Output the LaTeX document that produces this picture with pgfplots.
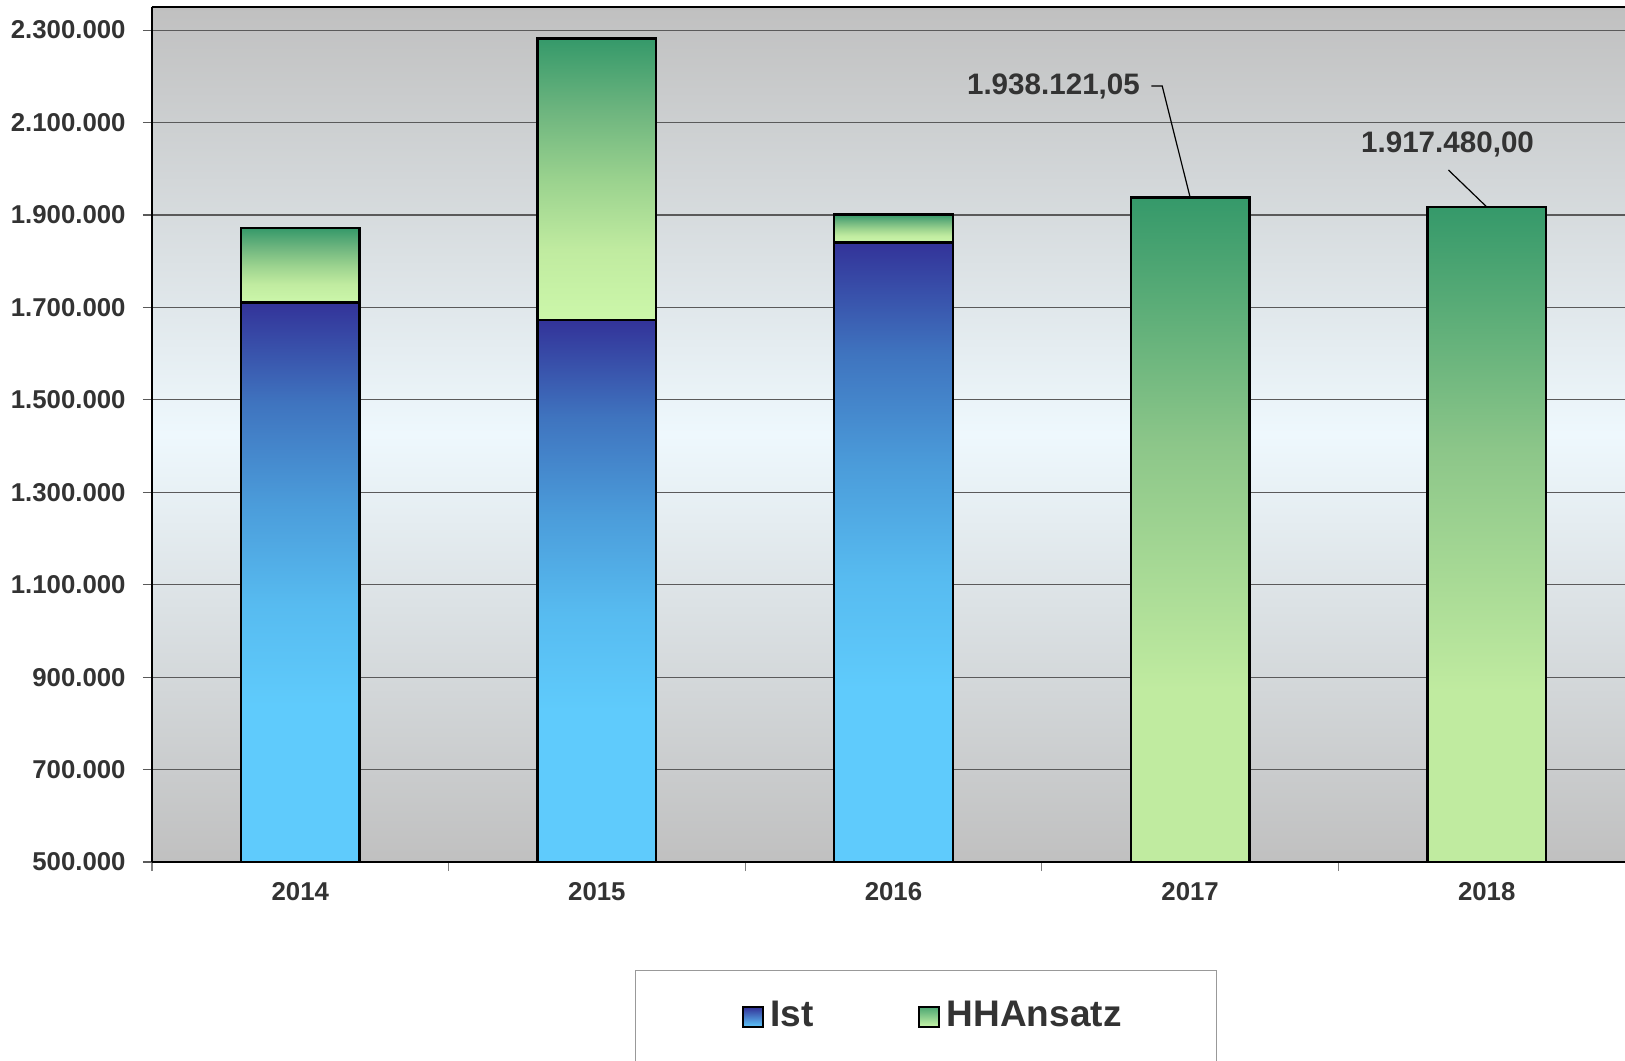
\documentclass[border=0pt]{standalone}
\usepackage{pgfplots}
\pgfplotsset{compat=1.18}
\usepackage{fontspec}
\setmainfont{Liberation Sans}
\definecolor{txt}{HTML}{333333}
\definecolor{istlight}{HTML}{5FCBFC}
\definecolor{istlow}{HTML}{57BBF0}
\definecolor{istmid}{HTML}{4B9CDA}
\definecolor{isthigh}{HTML}{3F74BF}
\definecolor{istdark}{HTML}{333399}
\definecolor{hhlight}{HTML}{CCF7AA}
\definecolor{hhlighttwo}{HTML}{C0EBA0}
\definecolor{hhmidlow}{HTML}{9AD28E}
\definecolor{hhmidhigh}{HTML}{6CB47E}
\definecolor{hhmid}{HTML}{8CC689}
\definecolor{hhdark}{HTML}{35996A}
\definecolor{hhicon}{HTML}{4FA873}
\definecolor{bgout}{HTML}{C0C0C0}
\definecolor{bgmid}{HTML}{EEF8FD}
\definecolor{gridc}{HTML}{5A5A5A}
% shadings: the middle 50bp (25bp..75bp) are fitted to each bar; bars start at 0, below the visible axis floor
\pgfdeclareverticalshading{istshade}{100bp}{color(0bp)=(istlight); color(39bp)=(istlight); color(48bp)=(istlow); color(57bp)=(istmid); color(66bp)=(isthigh); color(75bp)=(istdark); color(100bp)=(istdark)}
\pgfdeclareverticalshading{hhseg}{100bp}{color(0bp)=(hhlight); color(25bp)=(hhlight); color(37.5bp)=(hhlighttwo); color(50bp)=(hhmidlow); color(62.5bp)=(hhmidhigh); color(75bp)=(hhdark); color(100bp)=(hhdark)}
\pgfdeclareverticalshading{hhfull}{100bp}{color(0bp)=(hhlighttwo); color(38bp)=(hhlighttwo); color(56.5bp)=(hhmid); color(75bp)=(hhdark); color(100bp)=(hhdark)}
\pgfplotsset{
  base/.style={scale only axis, width=741.5pt, height=427.5pt,
    xmin=-0.5, xmax=4.5, ymin=500000, ymax=2350000, bar width=0.4},
  istbar/.style={shade, shading=istshade, draw=black, line width=1.2pt},
  hhsegbar/.style={shade, shading=hhseg, draw=black, line width=1.2pt},
  hhfullbar/.style={ybar, bar shift=0pt, shade, shading=hhfull, draw=black, line width=1.2pt},
}
\begin{document}
\begin{tikzpicture}
% main axis: frame, grid, ticks, legend, the two HHAnsatz-only bars
\begin{axis}[
  base,
  axis x line*=bottom, axis y line*=left,
  axis line style={black, line width=0.7pt},
  axis background/.style={shade, top color=bgout, bottom color=bgout, middle color=bgmid},
  ymajorgrids=true,
  grid style={gridc, line width=0.6pt},
  tick align=outside,
  major tick length=4.5pt,
  ytick={500000,700000,900000,1100000,1300000,1500000,1700000,1900000,2100000,2300000},
  y tick style={gridc, line width=0.6pt},
  scaled y ticks=false,
  yticklabel style={/pgf/number format/.cd, fixed, precision=0, 1000 sep={.}, assume math mode=true, /tikz/.cd,
    font=\fontsize{12.9}{15}\selectfont\bfseries, text=txt, inner sep=0pt, anchor=east, xshift=-8.5pt},
  xtick={-0.5,0.5,1.5,2.5,3.5,4.5},
  xticklabels={,,,,,},
  x tick style={gray, line width=0.6pt},
  extra x ticks={0,1,2,3,4},
  extra x tick labels={2014,2015,2016,2017,2018},
  extra x tick style={major tick length=0pt, xticklabel style={font=\fontsize{12.9}{15}\selectfont\bfseries, text=txt, inner sep=0pt, anchor=north, yshift=-10pt}},
  legend columns=2,
  legend style={at={(0.3257,-0.1263)}, anchor=north west, draw=gray!80, line width=0.6pt,
    inner xsep=47.5pt, inner ysep=15pt,
    font=\fontsize{18.5}{22}\selectfont\bfseries, text=txt,
    nodes={inner sep=0pt, text depth=20pt},
    /tikz/every odd column/.append style={column sep=3.5pt},
    /tikz/every even column/.append style={column sep=52pt}},
]
\addlegendimage{legend image code/.code={\path[draw=none, fill=none, shade=false] (0pt,3pt) rectangle (6pt,13pt); \draw[shade, top color=istdark, bottom color=istlight, draw=black, line width=1pt] (6pt,3pt) rectangle (16pt,13pt);}}
\addlegendentry{Ist}
\addlegendimage{legend image code/.code={\draw[shade, top color=hhicon, bottom color=hhlight, draw=black, line width=1pt] (0pt,3pt) rectangle (10pt,13pt);}}
\addlegendentry{HHAnsatz}
\addplot[hhfullbar, forget plot] coordinates {(3,1938121.05)};
\addplot[hhfullbar, forget plot] coordinates {(4,1917480)};
\draw[black, line width=0.7pt] (rel axis cs:0,1) -- (rel axis cs:1,1);
\node[anchor=east, inner sep=0pt, font=\fontsize{14.8}{17}\selectfont\bfseries, text=txt] at (axis cs:2.832,2178900) {1.938.121,05};
\draw[black, line width=0.6pt] (axis cs:2.869,2178900) -- (axis cs:2.906,2178900) -- (axis cs:3,1938121.05);
\node[anchor=center, inner sep=0pt, font=\fontsize{14.8}{17}\selectfont\bfseries, text=txt] at (axis cs:3.868,2053400) {1.917.480,00};
\draw[black, line width=0.6pt] (axis cs:3.871,1997200) -- (axis cs:4,1917480);
\end{axis}
% 2014: Ist + HHAnsatz stacked
\begin{axis}[base, hide axis, ybar stacked]
\addplot[istbar] coordinates {(0,1710500)};
\addplot[hhsegbar] coordinates {(0,161400)};
\end{axis}
% 2015
\begin{axis}[base, hide axis, ybar stacked]
\addplot[istbar] coordinates {(1,1672400)};
\addplot[hhsegbar] coordinates {(1,609700)};
\end{axis}
% 2016
\begin{axis}[base, hide axis, ybar stacked]
\addplot[istbar] coordinates {(2,1840500)};
\addplot[hhsegbar] coordinates {(2,60500)};
\end{axis}
\draw[black, line width=0.7pt] (0pt,0pt) -- (741.5pt,0pt);
\pgfresetboundingbox
\path[use as bounding box] (-76pt,-99pt) rectangle (736.5pt,431pt);
\end{tikzpicture}
\end{document}
